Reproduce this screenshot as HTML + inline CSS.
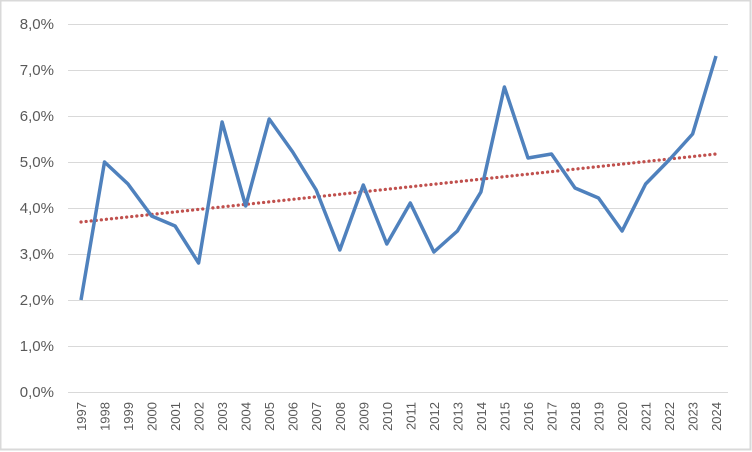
<!DOCTYPE html>
<html><head><style>body{margin:0;background:#fff}svg{display:block}</style></head>
<body>
<svg width="752" height="452" xmlns="http://www.w3.org/2000/svg" font-family="Liberation Sans, sans-serif">
<rect x="0.5" y="0.5" width="750" height="449" fill="#fff" stroke="#d9d9d9" stroke-width="2"/>
<g stroke="#d9d9d9" stroke-width="1">
<line x1="68" x2="728" y1="24.5" y2="24.5"/><line x1="68" x2="728" y1="70.5" y2="70.5"/>
<line x1="68" x2="728" y1="116.5" y2="116.5"/><line x1="68" x2="728" y1="162.5" y2="162.5"/>
<line x1="68" x2="728" y1="208.5" y2="208.5"/><line x1="68" x2="728" y1="254.5" y2="254.5"/>
<line x1="68" x2="728" y1="300.5" y2="300.5"/><line x1="68" x2="728" y1="346.5" y2="346.5"/>
<line x1="68" x2="728" y1="392.5" y2="392.5"/>
</g>
<g fill="#595959" font-size="15" text-anchor="end">
<text x="54" y="29">8,0%</text><text x="54" y="75">7,0%</text><text x="54" y="121">6,0%</text>
<text x="54" y="167">5,0%</text><text x="54" y="213">4,0%</text><text x="54" y="259">3,0%</text>
<text x="54" y="305">2,0%</text><text x="54" y="351">1,0%</text><text x="54" y="397">0,0%</text>
</g>
<g fill="#595959" font-size="13" text-anchor="end">
<text transform="translate(86,402) rotate(-90)">1997</text>
<text transform="translate(109.5,402) rotate(-90)">1998</text>
<text transform="translate(133,402) rotate(-90)">1999</text>
<text transform="translate(156.6,402) rotate(-90)">2000</text>
<text transform="translate(180.1,402) rotate(-90)">2001</text>
<text transform="translate(203.6,402) rotate(-90)">2002</text>
<text transform="translate(227.1,402) rotate(-90)">2003</text>
<text transform="translate(250.7,402) rotate(-90)">2004</text>
<text transform="translate(274.2,402) rotate(-90)">2005</text>
<text transform="translate(297.7,402) rotate(-90)">2006</text>
<text transform="translate(321.2,402) rotate(-90)">2007</text>
<text transform="translate(344.8,402) rotate(-90)">2008</text>
<text transform="translate(368.3,402) rotate(-90)">2009</text>
<text transform="translate(391.8,402) rotate(-90)">2010</text>
<text transform="translate(415.3,402) rotate(-90)">2011</text>
<text transform="translate(438.9,402) rotate(-90)">2012</text>
<text transform="translate(462.4,402) rotate(-90)">2013</text>
<text transform="translate(485.9,402) rotate(-90)">2014</text>
<text transform="translate(509.4,402) rotate(-90)">2015</text>
<text transform="translate(533,402) rotate(-90)">2016</text>
<text transform="translate(556.5,402) rotate(-90)">2017</text>
<text transform="translate(580,402) rotate(-90)">2018</text>
<text transform="translate(603.5,402) rotate(-90)">2019</text>
<text transform="translate(627.1,402) rotate(-90)">2020</text>
<text transform="translate(650.6,402) rotate(-90)">2021</text>
<text transform="translate(674.1,402) rotate(-90)">2022</text>
<text transform="translate(697.6,402) rotate(-90)">2023</text>
<text transform="translate(721,402) rotate(-90)">2024</text>
</g>
<line x1="81" y1="222" x2="716" y2="154" stroke="#c0504d" stroke-width="3.2" stroke-dasharray="0.1,5" stroke-linecap="round"/>
<polyline fill="none" stroke="#4f81bd" stroke-width="3.5" stroke-linejoin="round" points="81,300 104.5,162 128,184 151.6,216 175.1,226 198.6,263 222.1,122 245.7,206 269.2,119 292.7,152 316.2,190 339.8,250 363.3,185 386.8,244 410.3,203 433.9,252 457.4,231 480.9,192 504.4,87 528,158 551.5,154 575,188 598.5,198 622.1,231 645.6,184 669.1,160 692.6,134 716,56"/>
</svg>
</body></html>
